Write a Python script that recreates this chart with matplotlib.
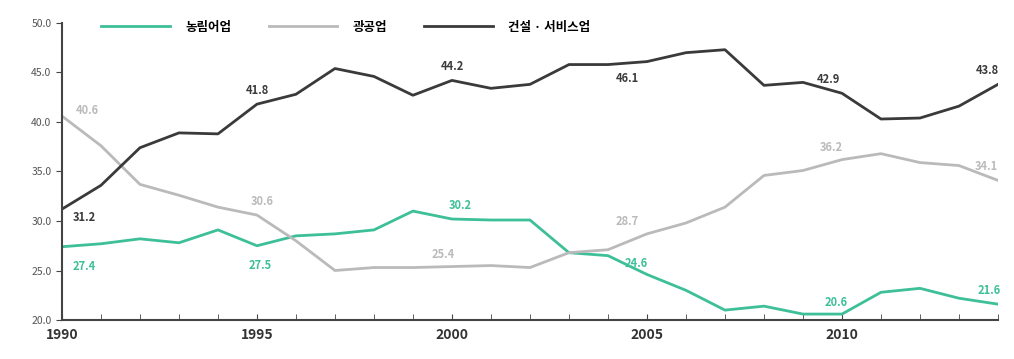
import matplotlib.pyplot as plt
import numpy as np

plt.rcParams['font.family'] = ['Noto Sans CJK KR', 'DejaVu Sans']

years = list(range(1990, 2015))

# 산업별 취업자 비중 (%)
agri = [27.4, 27.7, 28.2, 27.8, 29.1, 27.5, 28.5, 28.7, 29.1, 31.0, 30.2, 30.1, 30.1,
        26.8, 26.5, 24.6, 23.0, 21.0, 21.4, 20.6, 20.6, 22.8, 23.2, 22.2, 21.6]
mining = [40.6, 37.6, 33.7, 32.6, 31.4, 30.6, 28.0, 25.0, 25.3, 25.3, 25.4, 25.5, 25.3,
          26.8, 27.1, 28.7, 29.8, 31.4, 34.6, 35.1, 36.2, 36.8, 35.9, 35.6, 34.1]
service = [31.2, 33.6, 37.4, 38.9, 38.8, 41.8, 42.8, 45.4, 44.6, 42.7, 44.2, 43.4, 43.8,
           45.8, 45.8, 46.1, 47.0, 47.3, 43.7, 44.0, 42.9, 40.3, 40.4, 41.6, 43.8]

series_names = ['농림어업', '광공업', '건설 · 서비스업']
colors = ['#3dbf98', '#bababa', '#3a3a3a']

label_years = [1990, 1995, 2000, 2005, 2010, 2014]
# 라벨 위치 (points)
agri_off = [(16, -14), (2, -14), (6, 10), (-8, 8), (-4, 8), (-6, 10)]
mining_off = [(18, 4), (4, 10), (-6, 9), (-14, 9), (-8, 9), (-8, 10)]
service_off = [(16, -6), (0, 10), (0, 10), (-14, -12), (-10, 10), (-8, 10)]

fig = plt.figure(figsize=(10.14, 3.59), dpi=100)
ax = fig.add_axes([0.0611, 0.1086, 0.9231, 0.8274])

data = [agri, mining, service]
offsets = [agri_off, mining_off, service_off]
for vals, name, c, offs in zip(data, series_names, colors, offsets):
    ax.plot(years, vals, color=c, lw=2.0, label=name, solid_joinstyle='round')
    for yr, (dx, dy) in zip(label_years, offs):
        v = vals[years.index(yr)]
        ax.annotate('%.1f' % v, (yr, v), xytext=(dx, dy), textcoords='offset points',
                    ha='center', va='center', fontsize=8, color=c, fontweight='bold')

ax.set_xlim(1990, 2014)
ax.set_ylim(20, 50)
ax.set_yticks(np.arange(20, 51, 5))
ax.set_yticklabels(['%.1f' % t for t in np.arange(20, 51, 5)], fontsize=7.5, color='#555555')
ax.set_xticks(range(1990, 2015, 5))
ax.set_xticklabels([str(y) for y in range(1990, 2015, 5)], fontsize=10, fontweight='bold',
                   color='#333333')
ax.set_xticks(years, minor=True)
ax.tick_params(axis='x', which='both', direction='in', length=4, color='#444444', pad=6)
ax.tick_params(axis='y', direction='out', length=4, color='#444444')

for s in ['top', 'right']:
    ax.spines[s].set_visible(False)
for s in ['left', 'bottom']:
    ax.spines[s].set_color('#444444')
    ax.spines[s].set_linewidth(1.5)

ax.legend(loc='upper left', bbox_to_anchor=(0.03, 1.045), ncol=3, frameon=False,
          handlelength=5.5, columnspacing=3, handletextpad=1.2,
          prop={'weight': 'bold', 'size': 9})

fig.savefig('out.png', dpi=100)
